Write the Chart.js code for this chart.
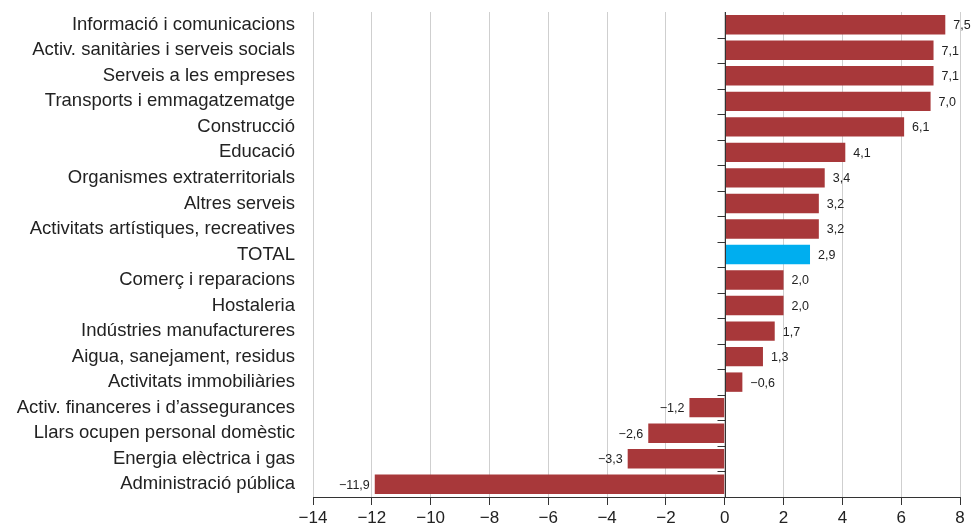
<!DOCTYPE html>
<html>
<head>
<meta charset="utf-8">
<script src="https://cdn.jsdelivr.net/npm/chart.js@4/dist/chart.umd.min.js"></script>
<style>
html,body{margin:0;padding:0;background:#fff;}
#wrap{width:978px;height:525px;position:relative;}
</style>
</head>
<body>
<div id="wrap"><canvas id="c" width="978" height="525"></canvas></div>
<script>
const categories = [
  "Informació i comunicacions",
  "Activ. sanitàries i serveis socials",
  "Serveis a les empreses",
  "Transports i emmagatzematge",
  "Construcció",
  "Educació",
  "Organismes extraterritorials",
  "Altres serveis",
  "Activitats artístiques, recreatives",
  "TOTAL",
  "Comerç i reparacions",
  "Hostaleria",
  "Indústries manufactureres",
  "Aigua, sanejament, residus",
  "Activitats immobiliàries",
  "Activ. financeres i d’assegurances",
  "Llars ocupen personal domèstic",
  "Energia elèctrica i gas",
  "Administració pública"
];
const values = [7.5, 7.1, 7.1, 7.0, 6.1, 4.1, 3.4, 3.2, 3.2, 2.9, 2.0, 2.0, 1.7, 1.3, 0.6, -1.2, -2.6, -3.3, -11.9];
const valueLabels = ["7,5","7,1","7,1","7,0","6,1","4,1","3,4","3,2","3,2","2,9","2,0","2,0","1,7","1,3","−0,6","−1,2","−2,6","−3,3","−11,9"];
const xTicks = [-14,-12,-10,-8,-6,-4,-2,0,2,4,6,8];
const highlight = "TOTAL";

const RED = "#A8383A", BLUE = "#00AEEF";
const FONT = "'Liberation Sans', Arial, Helvetica, sans-serif";

const zeroAxisPlugin = {
  id: 'zeroAxis',
  afterDatasetsDraw(chart) {
    const ctx = chart.ctx, xs = chart.scales.x, ys = chart.scales.y, area = chart.chartArea;
    const x0 = Math.round(xs.getPixelForValue(0)) + 0.5;
    const step = ys.getPixelForValue(1) - ys.getPixelForValue(0);
    ctx.save();
    ctx.strokeStyle = '#333';
    ctx.lineWidth = 1;
    ctx.beginPath();
    ctx.moveTo(x0, area.top);
    ctx.lineTo(x0, area.bottom);
    for (let i = 1; i < categories.length; i++) {
      const yy = Math.round(ys.getPixelForValue(i) - step / 2) + 0.5;
      ctx.moveTo(x0 - 8, yy);
      ctx.lineTo(x0, yy);
    }
    ctx.stroke();
    ctx.restore();
  }
};

const labelPlugin = {
  id: 'valLabels',
  afterDatasetsDraw(chart) {
    const ctx = chart.ctx;
    const meta = chart.getDatasetMeta(0);
    ctx.save();
    ctx.font = "12.5px " + FONT;
    ctx.fillStyle = '#222';
    ctx.textBaseline = 'middle';
    meta.data.forEach((bar, i) => {
      const v = values[i];
      if (v >= 0) {
        ctx.textAlign = 'left';
        ctx.fillText(valueLabels[i], bar.x + 8, bar.y + 1);
      } else {
        ctx.textAlign = 'right';
        ctx.fillText(valueLabels[i], bar.x - 5, bar.y + 1);
      }
    });
    ctx.restore();
  }
};

new Chart(document.getElementById('c'), {
  type: 'bar',
  data: {
    labels: categories,
    datasets: [{
      data: values,
      backgroundColor: categories.map(c => c === highlight ? BLUE : RED),
      borderWidth: 0,
      barPercentage: 0.76,
      categoryPercentage: 1.0
    }]
  },
  options: {
    indexAxis: 'y',
    responsive: false,
    animation: false,
    devicePixelRatio: 1,
    layout: { padding: { top: 12, right: 18, bottom: 0, left: 0 } },
    plugins: { legend: { display: false }, tooltip: { enabled: false } },
    scales: {
      x: {
        min: -14, max: 8,
        afterBuildTicks(scale) { scale.ticks = xTicks.map(v => ({ value: v })); },
        afterFit(scale) { scale.height = 28; },
        grid: { color: '#cfcfcf', lineWidth: 1, tickLength: 8, tickColor: '#333', drawTicks: true },
        border: { display: true, color: '#333', width: 1 },
        ticks: {
          color: '#222',
          font: { family: FONT, size: 17, lineHeight: 1 },
          padding: 5,
          callback: (v) => (v < 0 ? '−' + Math.abs(v) : String(v))
        }
      },
      y: {
        afterFit(scale) { scale.width = 313; },
        grid: { display: true, drawOnChartArea: false, drawTicks: true, tickLength: 18, tickColor: 'rgba(0,0,0,0)', color: 'rgba(0,0,0,0)' },
        border: { display: false },
        ticks: {
          color: '#222',
          font: { family: FONT, size: 18.5 },
          padding: 0,
          autoSkip: false
        }
      }
    }
  },
  plugins: [zeroAxisPlugin, labelPlugin]
});
</script>
</body>
</html>
